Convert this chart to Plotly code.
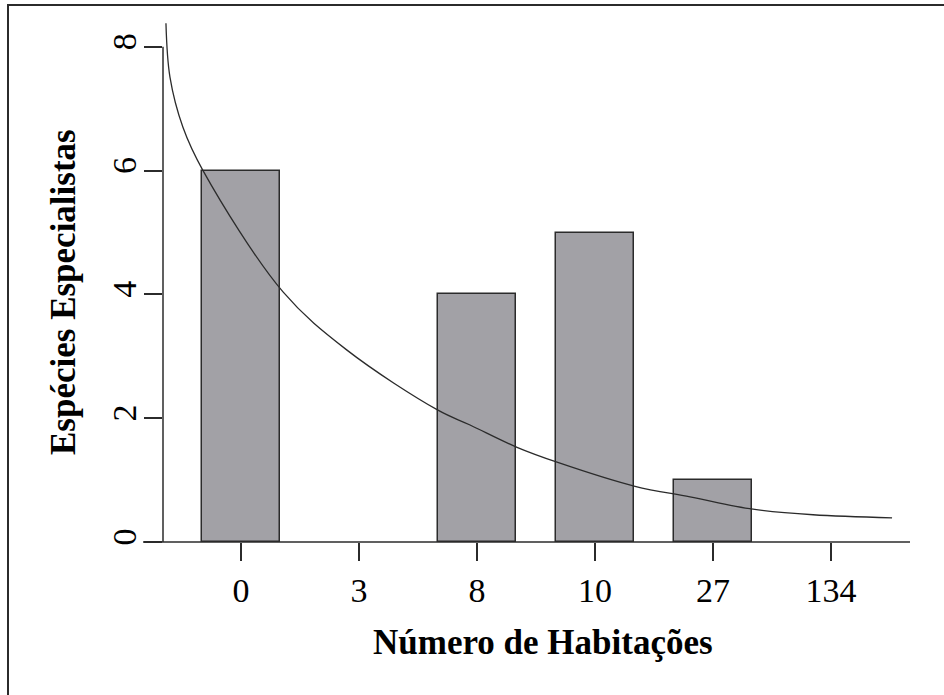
import plotly.graph_objects as go

# ---- data ----
categories = ["0", "3", "8", "10", "27", "134"]
species = [6, 0, 4, 5, 1, 0]
# fitted curve (x in bar-position units, y in species)
curve_x = [-0.636, -0.602, -0.492, -0.322, 0.356, 0.898, 1.669, 1.941, 2.339,
           2.678, 3.339, 3.805, 4.339, 4.847, 5.517]
curve_y = [8.38, 7.51, 6.70, 6.00, 4.04, 3.10, 2.13, 1.89, 1.53,
           1.29, 0.90, 0.73, 0.53, 0.44, 0.39]
y_ticks = [0, 2, 4, 6, 8]

# ---- layout geometry ----
W, H = 944, 695
ML, MR, MT, MB = 163, 34, 15, 153
PW, PH = W - ML - MR, H - MT - MB
xr = [-0.661, 5.669]
yr = [0, 8.514]

def px(x):
    return (x - ML) / PW

def py(y):
    return (H - MB - y) / PH

pos = list(range(len(categories)))
FONT = "Liberation Serif, Times New Roman, serif"
INK = "#2b2b2b"

fig = go.Figure()
fig.add_trace(go.Bar(
    x=pos, y=species, width=0.667,
    marker=dict(color="#a2a1a6",
                line=dict(color=INK, width=[1.5 if v > 0 else 0 for v in species])),
    showlegend=False, hoverinfo="skip"))
fig.add_trace(go.Scatter(
    x=curve_x, y=curve_y, mode="lines", line_shape="spline",
    line=dict(color=INK, width=1.3), showlegend=False, hoverinfo="skip"))

shapes = [
    # y axis line from 0 to 8
    dict(type="line", xref="paper", yref="paper", x0=0, x1=0,
         y0=0, y1=8 / yr[1], line=dict(color=INK, width=1.5)),
    # x axis line
    dict(type="line", xref="paper", yref="paper", x0=px(143), x1=1,
         y0=0, y1=0, line=dict(color=INK, width=1.5)),
    # outer frame
    dict(type="rect", xref="paper", yref="paper", x0=px(8), x1=px(960),
         y0=py(710), y1=py(5), line=dict(color=INK, width=2),
         fillcolor="rgba(0,0,0,0)"),
]

annotations = [
    dict(text="<b>Número de Habitações</b>", xref="paper", yref="paper",
         x=px(543), y=py(642), xanchor="center", yanchor="middle",
         showarrow=False, font=dict(family=FONT, size=35, color="black")),
    dict(text="<b>Espécies Especialistas</b>", xref="paper", yref="paper",
         x=px(63), y=py(292), xanchor="center", yanchor="middle",
         textangle=-90, showarrow=False,
         font=dict(family=FONT, size=35, color="black")),
]

fig.update_layout(
    width=W, height=H,
    margin=dict(l=ML, r=MR, t=MT, b=MB, pad=0),
    paper_bgcolor="white", plot_bgcolor="white",
    shapes=shapes, annotations=annotations,
    bargap=0,
    xaxis=dict(range=xr, tickvals=pos, ticktext=categories, ticks="outside",
               ticklen=18, tickwidth=1.5, tickcolor=INK, showline=False,
               showgrid=False, zeroline=False,
               tickfont=dict(family=FONT, size=34, color="black")),
    yaxis=dict(range=yr, tickvals=y_ticks, ticks="outside", ticklen=18,
               tickwidth=1.5, tickcolor=INK, showline=False, showgrid=False,
               zeroline=False, tickangle=-90, ticklabelstandoff=-6,
               tickfont=dict(family=FONT, size=34, color="black")),
)

fig.write_html("out.html", config={"displayModeBar": False},
               post_script="document.body.style.margin='0px';")
